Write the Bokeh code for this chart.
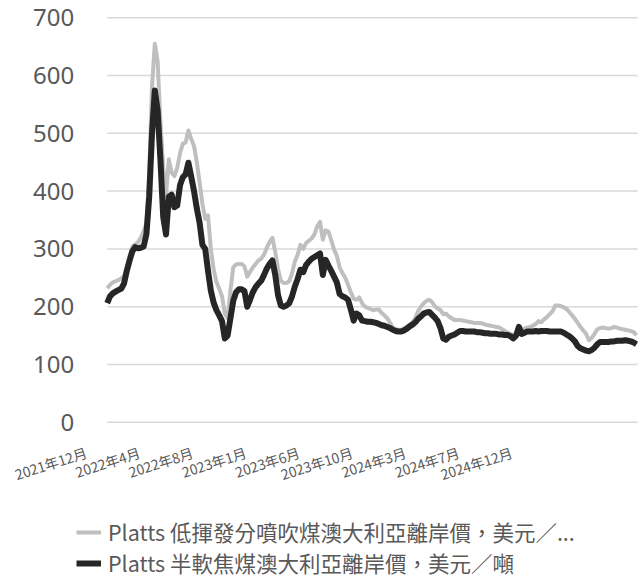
from bokeh.plotting import figure
from bokeh.models import Range1d, ColumnDataSource, Legend, LegendItem, LabelSet
from bokeh.core.properties import value
from bokeh.embed import file_html
from bokeh.resources import INLINE

# Weekly prices, US$/ton
pci_lv = [232, 238, 242, 244, 246, 249, 253, 268, 288, 304,
          308, 311, 320, 330, 345, 430, 580, 655, 625, 520,
          440, 393, 455, 432, 426, 440, 465, 482, 484, 505,
          490, 478, 450, 415, 378, 352, 358, 300, 265, 243,
          231, 218, 188, 180, 228, 268, 273, 274, 274, 270,
          252, 260, 268, 274, 280, 283, 290, 302, 312, 319,
          295, 265, 245, 241, 241, 244, 258, 278, 290, 307,
          300, 310, 314, 318, 325, 339, 347, 316, 332, 330,
          315, 299, 288, 268, 258, 250, 238, 225, 214, 212,
          216, 206, 200, 198, 196, 194, 195, 195, 189, 185,
          180, 172, 164, 161, 160, 160, 162, 165, 169, 173,
          180, 192, 200, 206, 210, 212, 208, 201, 197, 194,
          187, 188, 183, 180, 177, 177, 177, 176, 175, 174,
          173, 172, 172, 172, 171, 169, 168, 167, 166, 165,
          164, 161, 158, 155, 153, 151, 153, 160, 160, 162,
          164, 165, 167, 170, 175, 173, 178, 182, 187, 192,
          202, 202, 201, 199, 196, 191, 185, 179, 172, 165,
          159, 153, 142, 146, 153, 161, 163, 164, 163, 162,
          163, 165, 164, 162, 161, 160, 159, 158, 156, 151]

semi_soft = [206, 218, 223, 226, 229, 231, 240, 262, 280, 296,
             303, 301, 302, 304, 325, 390, 500, 574, 540, 455,
             355, 325, 390, 394, 372, 375, 410, 424, 429, 449,
             425, 400, 370, 345, 307, 300, 262, 228, 207, 194,
             185, 175, 145, 150, 180, 210, 225, 230, 230, 227,
             200, 212, 225, 234, 240, 245, 255, 266, 274, 280,
             255, 220, 202, 200, 202, 206, 218, 235, 248, 264,
             260, 272, 278, 283, 286, 289, 292, 255, 281, 271,
             262, 252, 242, 222, 218, 216, 212, 195, 176, 188,
             185, 176, 175, 174, 174, 173, 172, 170, 168, 167,
             165, 163, 160, 158, 157, 157, 159, 162, 166, 169,
             173, 179, 183, 188, 190, 191, 186, 181, 175, 163,
             145, 143, 148, 150, 152, 155, 158, 158, 157, 157,
             157, 157, 156, 156, 155, 154, 154, 153, 153, 153,
             152, 152, 151, 151, 149, 145, 150, 165, 153, 155,
             157, 157, 157, 158, 157, 158, 158, 158, 157, 157,
             157, 157, 157, 155, 152, 149, 145, 140, 132, 128,
             126, 124, 123, 125, 129, 135, 139, 139, 139, 139,
             140, 140, 141, 141, 141, 142, 141, 140, 138, 135]

tick_labels = ["2021年12月", "2022年4月", "2022年8月", "2023年1月", "2023年6月",
               "2023年10月", "2024年3月", "2024年7月", "2024年12月"]
label_every = 19  # one category label every 19 weeks

y_ticks = [0, 100, 200, 300, 400, 500, 600, 700]

series_names = ["Platts 低揮發分噴吹煤澳大利亞離岸價，美元／...",
                "Platts 半軟焦煤澳大利亞離岸價，美元／噸"]

week = list(range(len(semi_soft)))

# ---- canvas geometry (pixels) ----
W, H = 643, 578
area_left, area_right = 106.7, 636.0      # first / last week
area_top, area_bottom = 17.2, 421.8       # 700 / 0 gridlines

kx = (area_right - area_left) / (week[-1] - week[0])
ky = (area_bottom - area_top) / (y_ticks[-1] - y_ticks[0])
x_start = week[0] - area_left / kx
x_end = x_start + W / kx
y_end = y_ticks[-1] + area_top / ky
y_start = y_end - H / ky

p = figure(width=W, height=H, output_backend="svg", toolbar_location=None,
           x_axis_type=None, y_axis_type=None,
           x_range=Range1d(x_start, x_end), y_range=Range1d(y_start, y_end),
           min_border_left=0, min_border_right=0, min_border_top=0,
           min_border_bottom=0)
p.outline_line_color = None
p.background_fill_color = "white"
p.border_fill_color = "white"

# horizontal gridlines over the plotting area
p.segment(x0=[week[0]] * len(y_ticks), x1=[week[-1] + 0.4] * len(y_ticks),
          y0=y_ticks, y1=y_ticks, line_color="#d9d9d9", line_width=1.5)

# value axis labels
ylab = ColumnDataSource(dict(x=[week[0]] * len(y_ticks), y=y_ticks,
                             text=[str(v) for v in y_ticks]))
p.add_layout(LabelSet(x="x", y="y", text="text", source=ylab, x_offset=-33,
                      text_align="right", text_baseline="middle",
                      text_font=value("Noto Sans"), text_font_size="24px",
                      text_color="#595959"))

# category labels, one every 19 weeks, rotated like Excel's
lab_idx = [i * label_every for i in range(len(tick_labels))]
xlab = ColumnDataSource(dict(x=lab_idx, y=[y_ticks[0]] * len(lab_idx), text=tick_labels))
p.add_layout(LabelSet(x="x", y="y", text="text", source=xlab,
                      x_offset=-24, y_offset=-20, angle=0.31,
                      text_align="right", text_baseline="top",
                      text_font=value("Noto Sans CJK TC"), text_font_size="14px",
                      text_color="#595959"))

src = ColumnDataSource(dict(x=week, pci=pci_lv, semi=semi_soft))
r_pci = p.line("x", "pci", source=src, line_color="#bfbfbf", line_width=4,
               line_join="round")
r_semi = p.line("x", "semi", source=src, line_color="#262626", line_width=6,
                line_join="round")

legend = Legend(items=[LegendItem(label=series_names[0], renderers=[r_pci]),
                       LegendItem(label=series_names[1], renderers=[r_semi])],
                location=(76, 0), orientation="vertical",
                padding=0, margin=0, spacing=-2, glyph_width=25, glyph_height=20,
                label_standoff=7, border_line_color=None,
                background_fill_alpha=0,
                label_text_font="Noto Sans CJK TC", label_text_font_size="21.5px",
                label_text_color="#595959")
p.add_layout(legend)

open("out.html", "w").write(file_html(p, INLINE))
